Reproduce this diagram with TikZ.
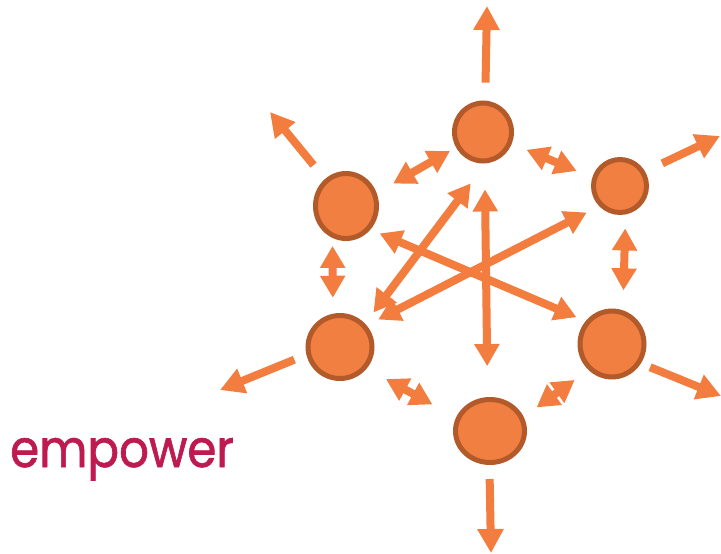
\documentclass[tikz,border=0pt]{standalone}
\usepackage{fontspec}
\newfontfamily\brandfont{Poppins}[FakeBold=1.2, FakeStretch=0.9]
\usetikzlibrary{arrows.meta, shapes.geometric}

\definecolor{hubfill}{HTML}{F27F42}
\definecolor{hubedge}{HTML}{B35A2A}
\definecolor{arrowc}{HTML}{F27D3F}
\definecolor{brand}{HTML}{BE1A50}

\tikzset{
    hub/.style={ellipse, draw=hubedge, line width=5pt, fill=hubfill, inner sep=0pt},
    spoke/.style={draw=arrowc, line width=8pt, -{Triangle[length=24pt, width=25pt]}},
    link/.style={draw=arrowc, line width=8pt, {Triangle[length=22pt, width=24pt]}-{Triangle[length=22pt, width=24pt]}}
}

\begin{document}
\begin{tikzpicture}[x=1pt, y=-1pt]
    \useasboundingbox (0,0) rectangle (721,554);
    % Add the hubs
        \node[hub,
              minimum width=57pt,
              minimum height=58pt] (T) at (483,132) {};
        \node[hub,
              minimum width=53pt,
              minimum height=53pt] (UR) at (620,186) {};
        \node[hub,
              minimum width=61pt,
              minimum height=65pt] (UL) at (346,206) {};
        \node[hub,
              minimum width=64pt,
              minimum height=63pt] (L) at (340,347) {};
        \node[hub,
              minimum width=64pt,
              minimum height=66pt] (R) at (612,344) {};
        \node[hub,
              minimum width=69pt,
              minimum height=63pt] (B) at (490,431) {};

    % Free ends of the outer arrows
        \coordinate (tT) at (487,6);
        \coordinate (tUR) at (720,136);
        \coordinate (tUL) at (270,112);
        \coordinate (tL) at (220,390);
        \coordinate (tR) at (721,396);
        \coordinate (tB) at (491,553);

        \node[anchor=base west, text=brand, inner sep=0pt,
              font=\brandfont\fontsize{52}{52}\selectfont] (word) at (10,467) {empower};

    % Outer arrows
        \draw[spoke, shorten <=18pt] (T.86) -- (tT);
        \draw[spoke, shorten <=19pt] (UR.30) -- (tUR);
        \draw[spoke, shorten <=18pt] (UL.128) -- (tUL);
        \draw[spoke, shorten <=13pt] (L.193) -- (tL);
        \draw[spoke, shorten <=10pt] (R.-34) -- (tR);
        \draw[spoke, shorten <=14pt] (B.-91) -- (tB);

    % Links between the hubs
        \draw[link, shorten <=7pt, shorten >=19pt] (T.210) -- (UL.23);
        \draw[link, shorten <=16pt, shorten >=17pt] (T.-22) -- (UR.163);
        \draw[link, shorten <=8pt, shorten >=16pt] (UL.247) -- (L.102);
        \draw[link, shorten <=14pt, shorten >=20pt] (UR.-79) -- (R.72);
        \draw[link, shorten <=22pt, shorten >=27pt] (L.-39) -- (B.158);
        \draw[link, shorten <=16pt, shorten >=17pt] (B.23) -- (R.-132);
        \draw[link, shorten <=26pt, shorten >=31pt] (T.-87) -- (B.94);
        \draw[link, shorten <=10pt, shorten >=10pt] (UL.-44) -- (R.139);
        \draw[link, shorten <=13pt, shorten >=14pt] (L.39) -- (UR.-136);
        \draw[link, shorten <=14pt, shorten >=25pt] (L.43) -- (T.-85);
\end{tikzpicture}
\end{document}
